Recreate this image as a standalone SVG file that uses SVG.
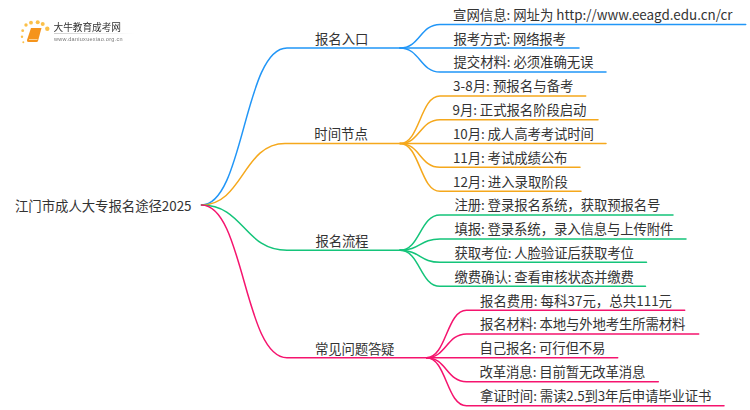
<svg xmlns="http://www.w3.org/2000/svg" width="750" height="410" viewBox="0 0 750 410">
<style>
text{font-family:"Noto Sans CJK SC","Noto Sans",sans-serif;fill:#333;font-size:13.4px}
.c{fill:none;stroke-width:1.5;stroke-linecap:round}
.b{stroke:#2196f7}.o{stroke:#f5a81c}.g{stroke:#14c47a}.p{stroke:#f5146e}
</style>
<defs>
<linearGradient id="fade"><stop offset="0" stop-color="#bbb"/><stop offset="1" stop-color="#fff"/></linearGradient>
<filter id="soft" x="-5%" y="-5%" width="110%" height="110%"><feGaussianBlur stdDeviation="0.35"/></filter>
</defs>
<rect width="750" height="410" fill="#fff"/>
<g id="logo" filter="url(#soft)">
<g fill="#fbc04a"><circle cx="23.300" cy="42.300" r="1"/><circle cx="22" cy="36.700" r="1.200"/><circle cx="22.700" cy="30.700" r="1.400"/><circle cx="26" cy="25" r="1.700"/><circle cx="31" cy="22.700" r="1.900"/><circle cx="37.700" cy="22.300" r="2"/><circle cx="42.700" cy="24" r="2"/><circle cx="47.300" cy="28.700" r="2.200"/></g>
<path d="M31 28H41.500L38 41Q37.700 42 36.500 42H28.500Q26.500 42 27 40Z" fill="#f5941e"/>
<path d="M29 39.500H37.500" stroke="#fde0b0" stroke-width="0.800" fill="none"/>
<rect x="54" y="33" width="80" height="0.700" fill="url(#fade)"/>
<text x="53.500" y="30.500" style="font-size:9.700px" fill="#444" textLength="67.500">大牛教育成考网</text>
<text x="54" y="41" style="font-size:5.500px;font-family:'Liberation Sans',sans-serif;fill:#777" textLength="68.500">www.daniuxuexiao.org.cn</text>
</g>
<g id="connectors">
<path class="c b" d="M201.500 205C244 205 244 48 287 48H400"/>
<path class="c o" d="M201.500 205C243 205 243 143.500 285 143.500H400"/>
<path class="c g" d="M201.500 205C244 205 244 250.300 287 250.300H400"/>
<path class="c p" d="M201.500 205C244 205 244 357.700 287 357.700H426.500"/>
<path class="c b" d="M400 48C420 48 420 24.500 440 24.500H745.700"/><path class="c b" d="M400 48H579"/><path class="c b" d="M400 48C420 48 420 72 440 72H606"/>
<path class="c o" d="M400 143.500C420 143.500 420 96 440 96H585.700"/><path class="c o" d="M400 143.500C420 143.500 420 119.700 440 119.700H598"/><path class="c o" d="M400 143.500H606"/><path class="c o" d="M400 143.500C420 143.500 420 167.300 440 167.300H580"/><path class="c o" d="M400 143.500C420 143.500 420 191.300 440 191.300H581"/>
<path class="c g" d="M400 250.300C420 250.300 420 215 440 215H673"/><path class="c g" d="M400 250.300C420 250.300 420 239 440 239H686"/><path class="c g" d="M400 250.300C420 250.300 420 262.300 440 262.300H646.500"/><path class="c g" d="M400 250.300C420 250.300 420 286.300 440 286.300H645.500"/>
<path class="c p" d="M426.500 357.700C446.500 357.700 446.500 310.300 466.500 310.300H684.700"/><path class="c p" d="M426.500 357.700C446.500 357.700 446.500 334 466.500 334H698.700"/><path class="c p" d="M426.500 357.700H617.700"/><path class="c p" d="M426.500 357.700C446.500 357.700 446.500 381.700 466.500 381.700H658.300"/><path class="c p" d="M426.500 357.700C446.500 357.700 446.500 405.700 466.500 405.700H724"/>
</g>
<g id="root"><text x="15" y="210.800" textLength="176.500">江门市成人大专报名途径2025</text></g>
<g id="n1"><text x="315" y="44" textLength="53.500">报名入口</text></g>
<g id="n1a"><text x="453" y="19.900" textLength="279.500">宣网信息: 网址为 http://www.eeagd.edu.cn/cr</text></g>
<g id="n1b"><text x="453.500" y="43.600" textLength="112.500">报考方式: 网络报考</text></g>
<g id="n1c"><text x="453.500" y="67.400" textLength="140">提交材料: 必须准确无误</text></g>
<g id="n2"><text x="314.300" y="139.300" textLength="53.500">时间节点</text></g>
<g id="n2a"><text x="453" y="91.400" textLength="120.500">3-8月: 预报名与备考</text></g>
<g id="n2b"><text x="452.500" y="115.100" textLength="134">9月: 正式报名阶段启动</text></g>
<g id="n2c"><text x="453" y="138.900" textLength="141">10月: 成人高考考试时间</text></g>
<g id="n2d"><text x="453" y="162.700" textLength="114.500">11月: 考试成绩公布</text></g>
<g id="n2e"><text x="453" y="186.700" textLength="115">12月: 进入录取阶段</text></g>
<g id="n3"><text x="315.500" y="246" textLength="53">报名流程</text></g>
<g id="n3a"><text x="454.500" y="210.400" textLength="206">注册: 登录报名系统，获取预报名号</text></g>
<g id="n3b"><text x="454.500" y="234.400" textLength="219">填报: 登录系统，录入信息与上传附件</text></g>
<g id="n3c"><text x="454.500" y="257.700" textLength="179.500">获取考位: 人脸验证后获取考位</text></g>
<g id="n3d"><text x="454.500" y="281.700" textLength="179.500">缴费确认: 查看审核状态并缴费</text></g>
<g id="n4"><text x="315" y="353.800" textLength="79.500">常见问题答疑</text></g>
<g id="n4a"><text x="480" y="305.700" textLength="192">报名费用: 每科37元，总共111元</text></g>
<g id="n4b"><text x="480" y="329.400" textLength="205.500">报名材料: 本地与外地考生所需材料</text></g>
<g id="n4c"><text x="479.500" y="353.100" textLength="126">自己报名: 可行但不易</text></g>
<g id="n4d"><text x="479.500" y="377.100" textLength="166">改革消息: 目前暂无改革消息</text></g>
<g id="n4e"><text x="480" y="401.100" textLength="231.500">拿证时间: 需读2.5到3年后申请毕业证书</text></g>
</svg>
